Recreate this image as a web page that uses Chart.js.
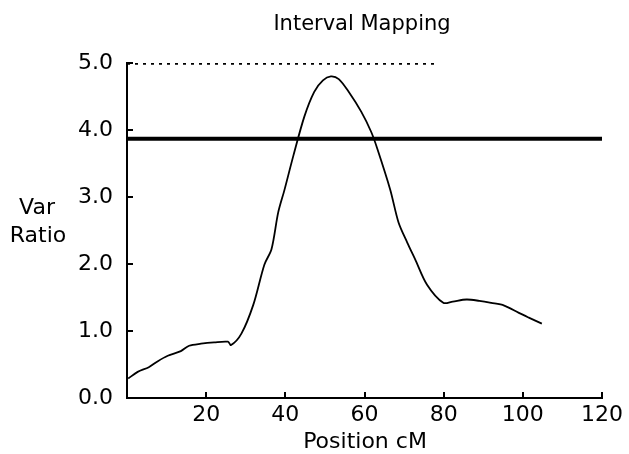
<!DOCTYPE html>
<html>
<head>
<meta charset="utf-8">
<script src="https://cdn.jsdelivr.net/npm/chart.js@4.4.1/dist/chart.umd.min.js"></script>
<style>
  html, body { margin: 0; padding: 0; background: #fff; }
  #wrap { width: 629px; height: 454px; }
</style>
</head>
<body>
<div id="wrap"><canvas id="mapChart"></canvas></div>
<script>
// données
const positions = [0.3, 2.7, 5.5, 7.8, 10.3, 13.6, 15.7, 18.7, 22, 25.5, 26.3, 28.9, 31.9, 34.7, 36.5, 38.2, 39.8, 42, 44.8, 47.3, 49.5, 51.5, 53.5, 56, 59.2, 61.7, 63.3, 66.5, 68.6, 70.8, 72.8, 75.8, 79.9, 82.3, 85.8, 89, 92, 95.3, 99, 101.5, 104.8];
const varRatio = [0.29, 0.39, 0.46, 0.55, 0.63, 0.70, 0.78, 0.81, 0.83, 0.84, 0.79, 0.96, 1.39, 1.99, 2.22, 2.77, 3.11, 3.61, 4.20, 4.57, 4.74, 4.80, 4.76, 4.57, 4.27, 3.97, 3.71, 3.11, 2.62, 2.32, 2.07, 1.69, 1.42, 1.44, 1.47, 1.45, 1.42, 1.38, 1.27, 1.20, 1.11];
const thresholdX = [0, 120];
const thresholdY = [3.87, 3.87];
const dottedX = [0, 78.5];
const dottedY = [5.0, 5.0];
const xTicks = [20, 40, 60, 80, 100, 120];
const yTicks = [0, 1, 2, 3, 4, 5];

const FONT = "'DejaVu Sans', sans-serif";

const toPoints = (xs, ys) => xs.map((x, i) => ({ x: x, y: ys[i] }));

// petites graduations tournées vers l'intérieur + textes
const decorPlugin = {
  id: 'decor',
  afterDraw(chart) {
    const ctx = chart.ctx;
    const xs = chart.scales.x, ys = chart.scales.y;
    const area = chart.chartArea;
    ctx.save();
    ctx.strokeStyle = '#000';
    ctx.lineWidth = 2;
    ctx.beginPath();
    xTicks.forEach(v => {
      const px = Math.round(xs.getPixelForValue(v));
      ctx.moveTo(px, area.bottom);
      ctx.lineTo(px, area.bottom - 6);
    });
    yTicks.slice(1).forEach(v => {
      const py = Math.round(ys.getPixelForValue(v));
      ctx.moveTo(area.left, py);
      ctx.lineTo(area.left + 6, py);
    });
    ctx.stroke();

    ctx.fillStyle = '#000';
    ctx.textAlign = 'center';
    ctx.textBaseline = 'middle';
    ctx.font = '21px ' + FONT;
    ctx.fillText('Interval Mapping', 362, 25);
    ctx.font = '22px ' + FONT;
    ctx.fillText('Var', 37, 208);
    ctx.fillText('Ratio', 38, 236);
    ctx.fillText('Position cM', 365, 442);
    ctx.restore();
  }
};

new Chart(document.getElementById('mapChart'), {
  type: 'line',
  data: {
    datasets: [
      {
        data: toPoints(dottedX, dottedY),
        borderColor: '#000',
        borderWidth: 3.5,
        borderDash: [3, 5],
        pointRadius: 0,
        tension: 0
      },
      {
        data: toPoints(thresholdX, thresholdY),
        borderColor: '#000',
        borderWidth: 4,
        pointRadius: 0,
        tension: 0
      },
      {
        data: toPoints(positions, varRatio),
        borderColor: '#000',
        borderWidth: 1.8,
        pointRadius: 0,
        tension: 0.3
      }
    ]
  },
  options: {
    responsive: true,
    maintainAspectRatio: false,
    animation: false,
    layout: { padding: { top: 63, right: 27, left: 0, bottom: 0 } },
    plugins: {
      legend: { display: false },
      tooltip: { enabled: false },
      title: { display: false }
    },
    scales: {
      x: {
        type: 'linear',
        min: 0,
        max: 120,
        afterFit: s => { s.height = 56; },
        grid: { display: false, drawTicks: false },
        border: { display: true, color: '#000', width: 2 },
        ticks: {
          stepSize: 20,
          padding: 4,
          color: '#000',
          font: { family: FONT, size: 22 },
          callback: v => (v === 0 ? '' : v)
        }
      },
      y: {
        min: 0,
        max: 5,
        afterFit: s => { s.width = 127; },
        grid: { display: false, drawTicks: false },
        border: { display: true, color: '#000', width: 2 },
        ticks: {
          stepSize: 1,
          padding: 14,
          color: '#000',
          font: { family: FONT, size: 22 },
          callback: v => v.toFixed(1)
        }
      }
    }
  },
  plugins: [decorPlugin]
});
</script>
</body>
</html>
